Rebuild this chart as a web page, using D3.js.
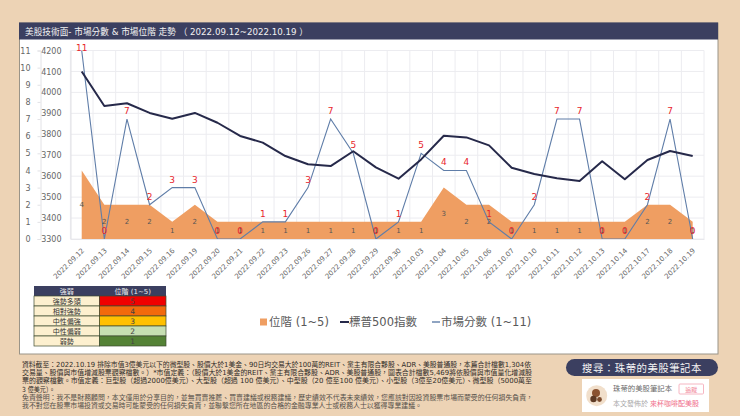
<!DOCTYPE html>
<html><head><meta charset="utf-8">
<script src="https://cdnjs.cloudflare.com/ajax/libs/d3/7.8.5/d3.min.js"></script>
<style>
html,body{margin:0;padding:0;background:#EDD3B5;overflow:hidden}
svg{display:block}
text{font-family:"DejaVu Sans","Noto Sans CJK TC",sans-serif}
</style></head><body>
<svg id="c" width="740" height="416"></svg>
<script>
const dates=["2022.09.12","2022.09.13","2022.09.14","2022.09.15","2022.09.16","2022.09.19","2022.09.20","2022.09.21","2022.09.22","2022.09.23","2022.09.26","2022.09.27","2022.09.28","2022.09.29","2022.09.30","2022.10.03","2022.10.04","2022.10.05","2022.10.06","2022.10.07","2022.10.10","2022.10.11","2022.10.12","2022.10.13","2022.10.14","2022.10.17","2022.10.18","2022.10.19"];
const level=[4,2,2,2,1,2,1,1,1,1,1,1,1,1,1,1,3,2,2,1,1,1,1,1,1,2,2,1];
const sp500=[4100,3935,3948,3902,3874,3902,3855,3792,3760,3696,3657,3648,3719,3642,3588,3680,3793,3785,3747,3640,3610,3590,3577,3671,3585,3677,3720,3696];
const score=[11,0,7,2,3,3,0,0,1,1,3,7,5,0,1,5,4,4,1,0,2,7,7,0,0,2,7,0];
const tableHead=["強弱","位階 (1~5)"];
const tableNames=["強勢多頭","相對強勢","中性偏強","中性偏弱","弱勢"];
const tableVals=[5,4,3,2,1];
const tableColors=["#F00000","#F26A0C","#FFC000","#C6DFB2","#548235"];
const notes=[
"資料截至：2022.10.19 排除市值3億美元以下的微型股、股價大於1美金、90日均交易大於100萬的REIT、黨主有限合夥股、ADR、美股普通股，本篇合計檔數1,304依",
"交易量、股價與市值增減股票觀察檔數。）*市值定義：（股價大於1美金的REIT、黨主有限合夥股、ADR、美股普通股，圖表合計檔數5,469將依股價與市值量化增減股",
"票的觀察檔數。市值定義：巨型股（超過2000億美元）、大型股（超過 100 億美元）、中型股（20 億至100 億美元）、小型股（3億至20億美元）、微型股（5000萬至",
"3 億美元）。",
"免責聲明：我不是財務顧問，本文僅用於分享目的，並無買賣推薦、買賣建議或稅務建議，歷史績效不代表未來績效，您應該對因投資股票市場而蒙受的任何損失負責，",
"我不對您在股票市場投資或交易時可能蒙受的任何損失負責，並聯繫您所在地區的合格的金融專業人士或稅務人士以獲得專業建議。"];
const noteWidths=[509,510,510,33,511,400];

const navy="#3B3F60";
const svg=d3.select("#c");
// panel
svg.append("rect").attr("x",19.5).attr("y",23).attr("width",698.5).attr("height",331).attr("fill","#fff").attr("stroke","#9a9488").attr("stroke-width",1);
svg.append("rect").attr("x",19).attr("y",22.5).attr("width",699).attr("height",17).attr("fill",navy);
svg.append("text").attr("x",25).attr("y",35).attr("fill","#f2f2f2").attr("font-size",9)
  .attr("textLength",283).attr("lengthAdjust","spacingAndGlyphs")
  .text("美股技術面- 市場分數 & 市場位階 走勢 （ 2022.09.12~2022.10.19 ）");

const plot={l:70.4,r:704,t:50.5,b:239};
const x=d3.scaleBand().domain(dates).range([plot.l,plot.r]);
const cx=d=>x(d)+x.bandwidth()/2;
const yI=d3.scaleLinear().domain([3300,4200]).range([plot.b,plot.t]);
const yS=d3.scaleLinear().domain([0,11]).range([plot.b,plot.t]);

// grid
const g=svg.append("g");
g.append("g").selectAll("line").data(d3.range(3300,4201,100)).join("line")
  .attr("x1",plot.l).attr("x2",plot.r).attr("y1",d=>yI(d)).attr("y2",d=>yI(d)).attr("stroke","#ececf0");
g.append("g").selectAll("line").data(dates.concat(["end"])).join("line")
  .attr("x1",d=>d==="end"?plot.r:x(d)).attr("x2",d=>d==="end"?plot.r:x(d))
  .attr("y1",plot.t).attr("y2",plot.b).attr("stroke","#ececf0");

// area
svg.append("path").attr("fill","#EF9E62")
  .attr("d",d3.area().x((d,i)=>cx(dates[i])).y0(plot.b).y1(d=>yS(d))(level));
// lines
svg.append("path").attr("fill","none").attr("stroke","#5F7DA8").attr("stroke-width",1.1)
  .attr("d",d3.line().x((d,i)=>cx(dates[i])).y(d=>yS(d))(score));
svg.append("path").attr("fill","none").attr("stroke","#26294A").attr("stroke-width",2).attr("stroke-linejoin","round")
  .attr("d",d3.line().x((d,i)=>cx(dates[i])).y(d=>yI(d))(sp500));

// axes
const axLeft=svg.append("g").attr("transform","translate(40.5,0)")
  .call(d3.axisLeft(yS).tickValues(d3.range(0,12)).tickSize(3).tickPadding(7));
const axInner=svg.append("g").attr("transform","translate(70.5,0)")
  .call(d3.axisLeft(yI).tickValues(d3.range(3300,4201,100)).tickSize(0).tickPadding(9).tickFormat(d3.format("d")));
axLeft.selectAll("path,line").attr("stroke","#e2e2e6");
axInner.select("path").attr("stroke","#e2e2e6");
[axLeft,axInner].forEach(a=>a.selectAll("text").attr("fill","#666").attr("font-size",8).attr("font-family",'"DejaVu Sans",sans-serif'));
const axB=svg.append("g").attr("transform",`translate(0,${plot.b})`)
  .call(d3.axisBottom(x).tickSize(0).tickPadding(0));
axB.select("path").attr("stroke","#e8e8ec");
axB.selectAll("text").attr("fill","#666").attr("font-size",7).attr("text-anchor","end")
  .attr("dy",0).attr("transform","translate(3,12) rotate(-45)");

// level labels
svg.append("g").selectAll("text").data(level).join("text")
  .attr("x",(d,i)=>cx(dates[i])).attr("y",d=>yS(d/2)+2.5)
  .attr("text-anchor","middle").attr("font-size",7).attr("fill","#555").text(d=>d);
// score labels
svg.append("g").selectAll("text").data(score).join("text")
  .attr("x",(d,i)=>cx(dates[i])).attr("y",d=>Math.max(50.5,yS(d)-5))
  .attr("text-anchor","middle").attr("font-size",9).attr("fill","#E8262C").text(d=>d);

// strength table
const tb=svg.append("g");
const rowY=d3.scaleBand().domain(d3.range(6)).range([286,346]);
const colX=[34,99.5,166];
tb.append("rect").attr("x",colX[0]).attr("y",286).attr("width",colX[2]-colX[0]).attr("height",rowY.bandwidth()).attr("fill",navy);
tableHead.forEach((t,i)=>tb.append("text").attr("x",(colX[i]+colX[i+1])/2).attr("y",294).attr("text-anchor","middle").attr("font-size",7).attr("fill","#eee").text(t));
tableNames.forEach((t,i)=>{
  const y=rowY(i+1),h=rowY.bandwidth();
  tb.append("rect").attr("x",colX[0]).attr("y",y).attr("width",colX[1]-colX[0]).attr("height",h).attr("fill","#FDF0CF").attr("stroke","#3d4a30").attr("stroke-width",.7);
  tb.append("rect").attr("x",colX[1]).attr("y",y).attr("width",colX[2]-colX[1]).attr("height",h).attr("fill",tableColors[i]).attr("stroke","#3d4a30").attr("stroke-width",.7);
  tb.append("text").attr("x",(colX[0]+colX[1])/2).attr("y",y+8).attr("text-anchor","middle").attr("font-size",7).attr("fill","#333").text(t);
  tb.append("text").attr("x",(colX[1]+colX[2])/2).attr("y",y+8).attr("text-anchor","middle").attr("font-size",7.5).attr("fill","#444").text(tableVals[i]);
});

// legend
const lg=svg.append("g").attr("font-size",11.5).attr("fill","#595959");
lg.append("rect").attr("x",260).attr("y",318.5).attr("width",7).attr("height",7).attr("fill","#EF9E62");
lg.append("text").attr("x",269).attr("y",326).text("位階 (1~5)");
lg.append("line").attr("x1",340).attr("x2",349).attr("y1",322).attr("y2",322).attr("stroke","#26294A").attr("stroke-width",2);
lg.append("text").attr("x",349).attr("y",326).text("標普500指數");
lg.append("line").attr("x1",432).attr("x2",440).attr("y1",322).attr("y2",322).attr("stroke","#5F7DA8").attr("stroke-width",1.4);
lg.append("text").attr("x",441).attr("y",326).text("市場分數 (1~11)");

// footnotes
const noteY=[364.5,372.5,380.5,389,397,405];
svg.append("g").selectAll("text").data(notes).join("text")
  .attr("x",22).attr("y",(d,i)=>noteY[i]+2.5).attr("font-size",7).attr("fill",(d,i)=>i>3?"#55504a":"#2f2b28")
  .attr("textLength",(d,i)=>noteWidths[i]).attr("lengthAdjust","spacingAndGlyphs").text(d=>d);

// search pill
svg.append("rect").attr("x",566).attr("y",359).attr("width",152).attr("height",17).attr("rx",8.5).attr("fill",navy);
svg.append("text").attr("x",642).attr("y",371.5).attr("text-anchor","middle").attr("font-size",10.4).attr("fill","#f4f4f4").attr("letter-spacing",.5).text("搜尋：珠蒂的美股筆記本");
// card
svg.append("rect").attr("x",582).attr("y",379).attr("width",127).attr("height",33).attr("fill","#fff");
svg.append("circle").attr("cx",596.7).attr("cy",395.7).attr("r",10.5).attr("fill","#F1DFCB");
svg.append("circle").attr("cx",596).attr("cy",393).attr("r",4).attr("fill","#8A5230");
svg.append("circle").attr("cx",593.5).attr("cy",399).attr("r",3.2).attr("fill","#5E3A24");
svg.append("circle").attr("cx",599.5).attr("cy",399.5).attr("r",2.4).attr("fill","#7a4a2c");
svg.append("text").attr("x",613).attr("y",391).attr("font-size",7.4).attr("fill","#6b6b6b").text("珠蒂的美股筆記本");
svg.append("rect").attr("x",679).attr("y",384).attr("width",24.5).attr("height",10).attr("rx",1).attr("fill","#fff").attr("stroke","#F4A3B2").attr("stroke-width",.8);
svg.append("text").attr("x",691.2).attr("y",391.7).attr("text-anchor","middle").attr("font-size",6).attr("fill","#F08095").text("追蹤");
svg.append("text").attr("x",613).attr("y",406).attr("font-size",7).attr("fill","#aaa").text("本文發佈於");
svg.append("text").attr("x",650).attr("y",406).attr("font-size",7).attr("fill","#F0708C").text("來杯咖啡配美股");
</script>
</body></html>
